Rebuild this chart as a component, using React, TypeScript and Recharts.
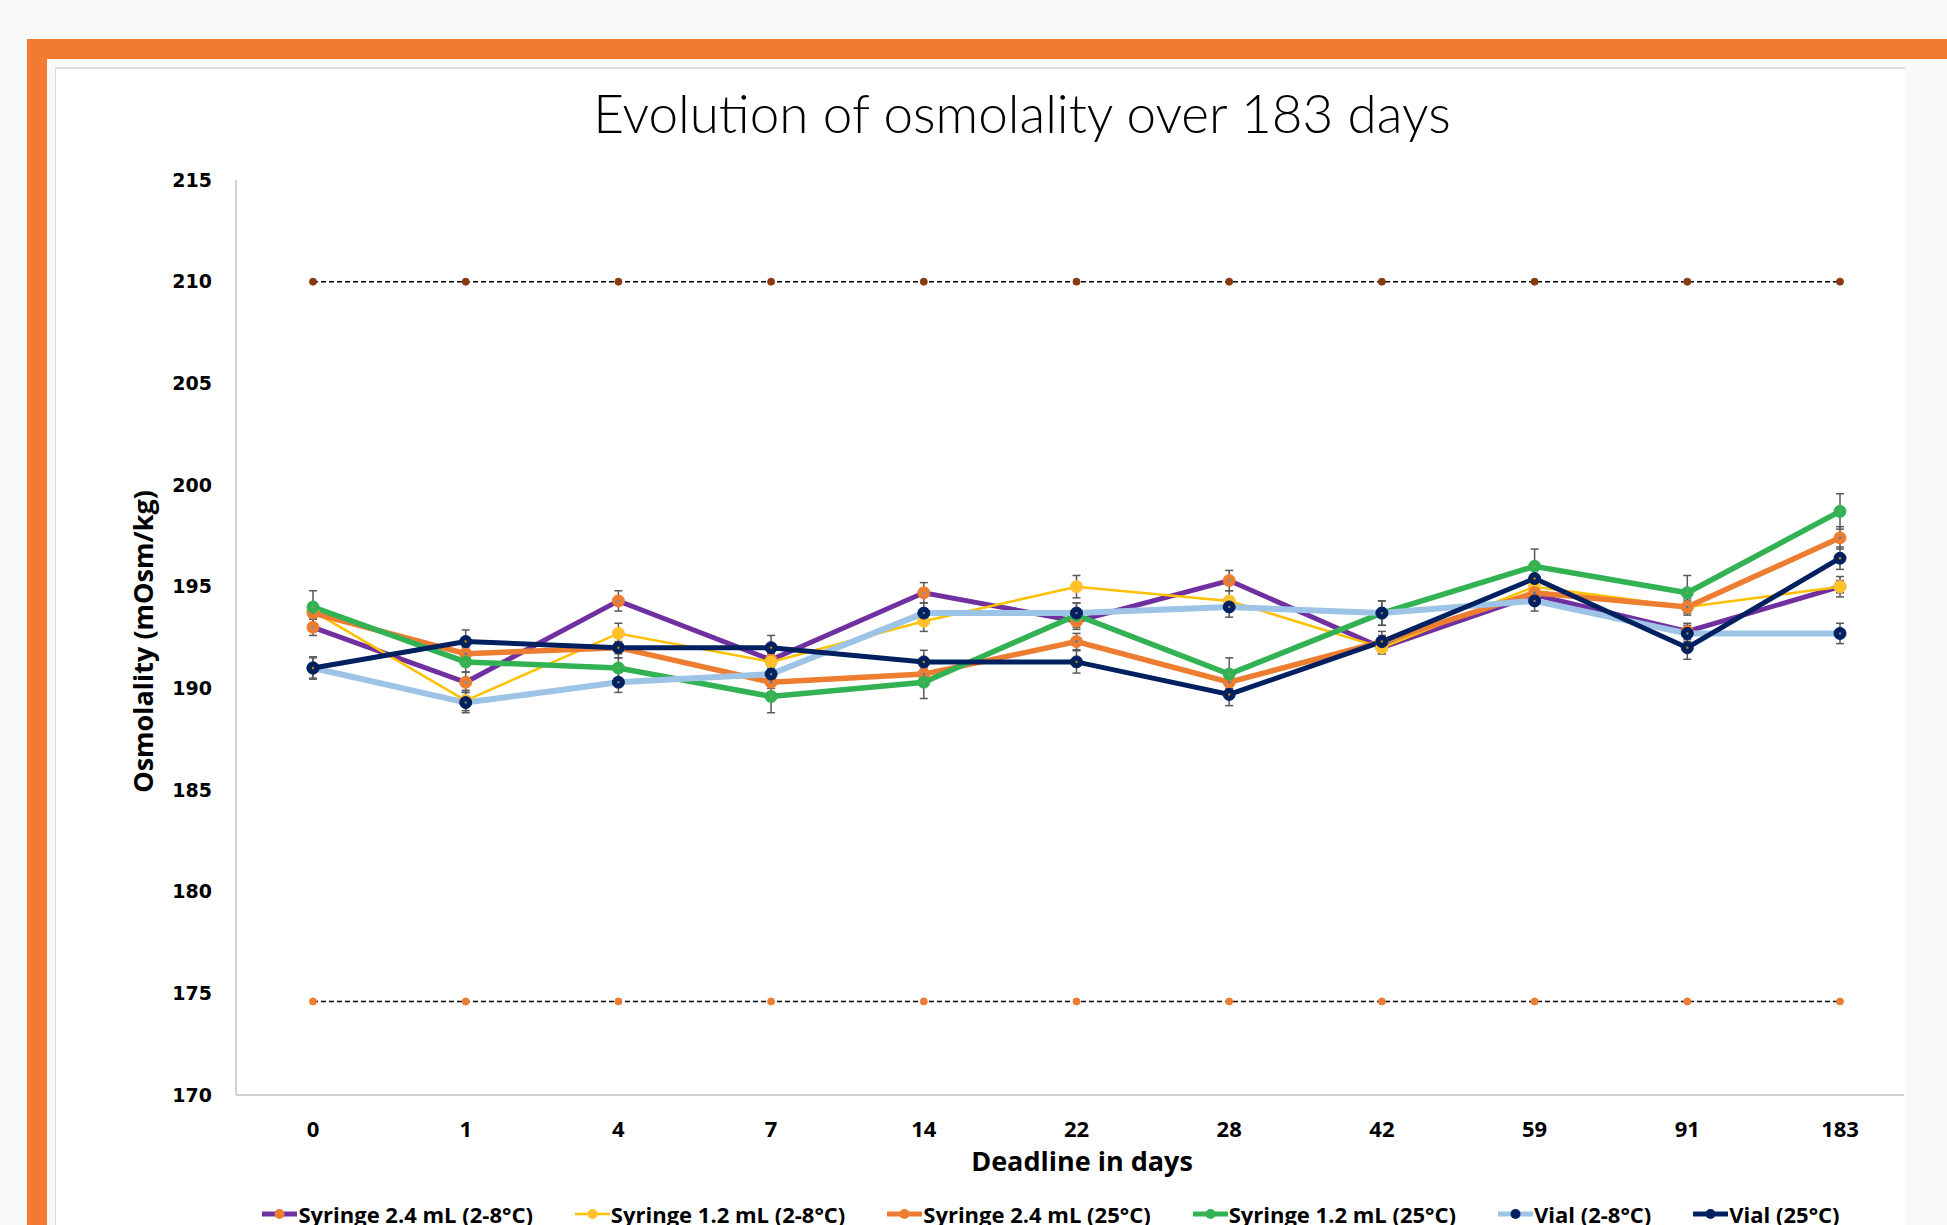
import { LineChart, Line, XAxis, YAxis, Legend, ErrorBar } from 'recharts';

// sampling days (x axis categories)
const days = ['0', '1', '4', '7', '14', '22', '28', '42', '59', '91', '183'];

// osmolality, mOsm/kg
const syringe24Cold = [193.0, 190.3, 194.3, 191.4, 194.7, 193.3, 195.3, 192.0, 194.6, 192.8, 195.0];
const syringe12Cold = [193.8, 189.4, 192.7, 191.3, 193.3, 195.0, 194.3, 192.0, 195.0, 194.0, 195.0];
const syringe24Warm = [193.7, 191.7, 192.0, 190.3, 190.7, 192.3, 190.3, 192.3, 194.7, 194.0, 197.4];
const syringe12Warm = [194.0, 191.3, 191.0, 189.6, 190.3, 193.6, 190.7, 193.7, 196.0, 194.7, 198.7];
const vialCold = [191.0, 189.3, 190.3, 190.7, 193.7, 193.7, 194.0, 193.7, 194.3, 192.7, 192.7];
const vialWarm = [191.0, 192.3, 192.0, 192.0, 191.3, 191.3, 189.7, 192.3, 195.4, 192.0, 196.4];

// standard deviations (error bars)
const syringe24ColdErr = [0.4, 0.5, 0.5, 0.4, 0.5, 0.4, 0.5, 0.3, 0.3, 0.4, 0.3];
const syringe12ColdErr = [0.4, 0.5, 0.5, 0.4, 0.5, 0.55, 0.5, 0.3, 0.3, 0.3, 0.5];
const syringe24WarmErr = [0.3, 0.3, 0.3, 0.3, 0.3, 0.4, 0.3, 0.3, 0.3, 0.4, 0.55];
const syringe12WarmErr = [0.8, 0.5, 0.5, 0.8, 0.8, 0.6, 0.8, 0.6, 0.85, 0.85, 0.87];
const vialColdErr = [0.5, 0.5, 0.5, 0.4, 0.5, 0.5, 0.5, 0.6, 0.5, 0.4, 0.5];
const vialWarmErr = [0.55, 0.57, 0.5, 0.6, 0.57, 0.55, 0.55, 0.5, 0.5, 0.57, 0.55];

// acceptance limits
const upperLimit = [210, 210, 210, 210, 210, 210, 210, 210, 210, 210, 210];
const lowerLimit = [174.6, 174.6, 174.6, 174.6, 174.6, 174.6, 174.6, 174.6, 174.6, 174.6, 174.6];

const yTicks = [170, 175, 180, 185, 190, 195, 200, 205, 210, 215];

const series = [
    { key: 's24c', name: 'Syringe 2.4 mL (2-8°C)', values: syringe24Cold, errs: syringe24ColdErr, line: '#7030A0', dot: '#ED7D31', center: '#5B9BD5', width: 5 },
    { key: 's12c', name: 'Syringe 1.2 mL (2-8°C)', values: syringe12Cold, errs: syringe12ColdErr, line: '#FFC000', dot: '#FFC22E', center: '#FFC000', width: 2.5 },
    { key: 's24w', name: 'Syringe 2.4 mL (25°C)', values: syringe24Warm, errs: syringe24WarmErr, line: '#ED7D31', dot: '#ED7D31', center: '#4472C4', width: 5.5 },
    { key: 's12w', name: 'Syringe 1.2 mL (25°C)', values: syringe12Warm, errs: syringe12WarmErr, line: '#33B254', dot: '#33B254', center: '#70AD47', width: 5.5 },
    { key: 'vc', name: 'Vial (2-8°C)', values: vialCold, errs: vialColdErr, line: '#9DC3E6', dot: '#002060', center: '#7F7F7F', width: 6 },
    { key: 'vw', name: 'Vial (25°C)', values: vialWarm, errs: vialWarmErr, line: '#002060', dot: '#002060', center: '#BF9000', width: 5 },
];

const rows = days.map((day, i) => {
    const row: Record<string, string | number> = { day, upper: upperLimit[i], lower: lowerLimit[i] };
    series.forEach((s) => {
        row[s.key] = s.values[i];
        row[s.key + 'Err'] = s.errs[i];
    });
    return row;
});

const makeDot = (fill: string, center: string, r: number) => (props: any) => {
    const { cx, cy, index, dataKey } = props;
    if (cx == null || cy == null) return <g key={`${dataKey}-${index}`} />;
    return (
        <g key={`${dataKey}-${index}`}>
            <circle cx={cx} cy={cy} r={r} fill={fill} stroke={fill} strokeWidth={1} />
            <circle cx={cx} cy={cy} r={1.2} fill={center} />
        </g>
    );
};

const renderLegend = () => (
    <div style={{ display: 'flex', justifyContent: 'center', gap: 42, fontFamily: '"Open Sans", sans-serif', fontWeight: 700, fontSize: 22, color: '#000', whiteSpace: 'nowrap' }}>
        {series.map((s) => (
            <div key={s.key} style={{ display: 'flex', alignItems: 'center' }}>
                <svg width={35} height={14} style={{ marginRight: 1 }}>
                    <line x1={0} y1={7} x2={35} y2={7} stroke={s.line} strokeWidth={Math.min(s.width, 5)} />
                    <circle cx={17.5} cy={7} r={5} fill={s.dot} />
                </svg>
                <span>{s.name}</span>
            </div>
        ))}
    </div>
);

export default function App() {
    return (
        <div style={{ position: 'absolute', left: 0, top: 0, width: 1947, height: 1225, background: '#F8F9F9', overflow: 'hidden' }}>
            {/* orange frame */}
            <div style={{ position: 'absolute', left: 27, top: 39, width: 1920, height: 20, background: '#F37A31' }} />
            <div style={{ position: 'absolute', left: 27, top: 39, width: 20, height: 1186, background: '#F37A31' }} />
            {/* white panel */}
            <div style={{ position: 'absolute', left: 55, top: 67, width: 1849, height: 1158, background: '#ffffff', borderLeft: '1px solid #D9DCDC', borderTop: '2px solid #D9DCDC' }} />

            <div style={{ position: 'absolute', left: 22, width: 2000, top: 83, textAlign: 'center', fontFamily: 'Lato, sans-serif', fontWeight: 300, fontSize: 53, color: '#000', lineHeight: '60px', whiteSpace: 'nowrap' }}>
                Evolution of osmolality over 183 days
            </div>

            <div style={{ position: 'absolute', left: 0, top: 0 }}>
                <LineChart width={1947} height={1225} data={rows} margin={{ top: 180, right: 43, bottom: 70, left: 0 }}>
                    <XAxis
                        dataKey="day"
                        height={60}
                        padding={{ left: 77, right: 64 }}
                        tickLine={false}
                        tickSize={0}
                        tickMargin={26}
                        stroke="#D0D0D0"
                        strokeWidth={2}
                        tick={{ fill: '#000', fontFamily: '"Open Sans", sans-serif', fontWeight: 700, fontSize: 22 }}
                        label={{ value: 'Deadline in days', position: 'center', dx: 12, dy: 36, fill: '#000', fontFamily: '"Open Sans", sans-serif', fontWeight: 700, fontSize: 27 }}
                    />
                    <YAxis
                        type="number"
                        width={236}
                        domain={[170, 215]}
                        ticks={yTicks}
                        interval={0}
                        tickLine={false}
                        tickSize={0}
                        tickMargin={24}
                        stroke="#D0D0D0"
                        strokeWidth={2}
                        tick={{ fill: '#000', fontFamily: '"DejaVu Sans", sans-serif', fontWeight: 700, fontSize: 19 }}
                        label={{ value: 'Osmolality (mOsm/kg)', angle: -90, position: 'center', dx: 25, dy: 4, fill: '#000', fontFamily: '"Open Sans", sans-serif', fontWeight: 700, fontSize: 27 }}
                    />
                    <Legend layout="horizontal" verticalAlign="middle" align="center" wrapperStyle={{ top: 1199, left: 217, width: 1668, height: 32 }} content={renderLegend} />

                    <Line dataKey="upper" legendType="none" stroke="#000" strokeWidth={1.5} strokeDasharray="5 3" dot={makeDot('#8B3A0F', '#8B3A0F', 3.5)} isAnimationActive={false} />
                    <Line dataKey="lower" legendType="none" stroke="#000" strokeWidth={1.5} strokeDasharray="5 3" dot={makeDot('#ED7D31', '#ED7D31', 3.5)} isAnimationActive={false} />

                    {series.map((s) => (
                        <Line
                            key={s.key}
                            dataKey={s.key}
                            name={s.name}
                            stroke={s.line}
                            strokeWidth={s.width}
                            dot={makeDot(s.dot, s.center, 6)}
                            activeDot={false}
                            isAnimationActive={false}
                        >
                            <ErrorBar dataKey={s.key + 'Err'} direction="y" width={4} strokeWidth={1.5} stroke="#595959" />
                        </Line>
                    ))}
                </LineChart>
            </div>
        </div>
    );
}
